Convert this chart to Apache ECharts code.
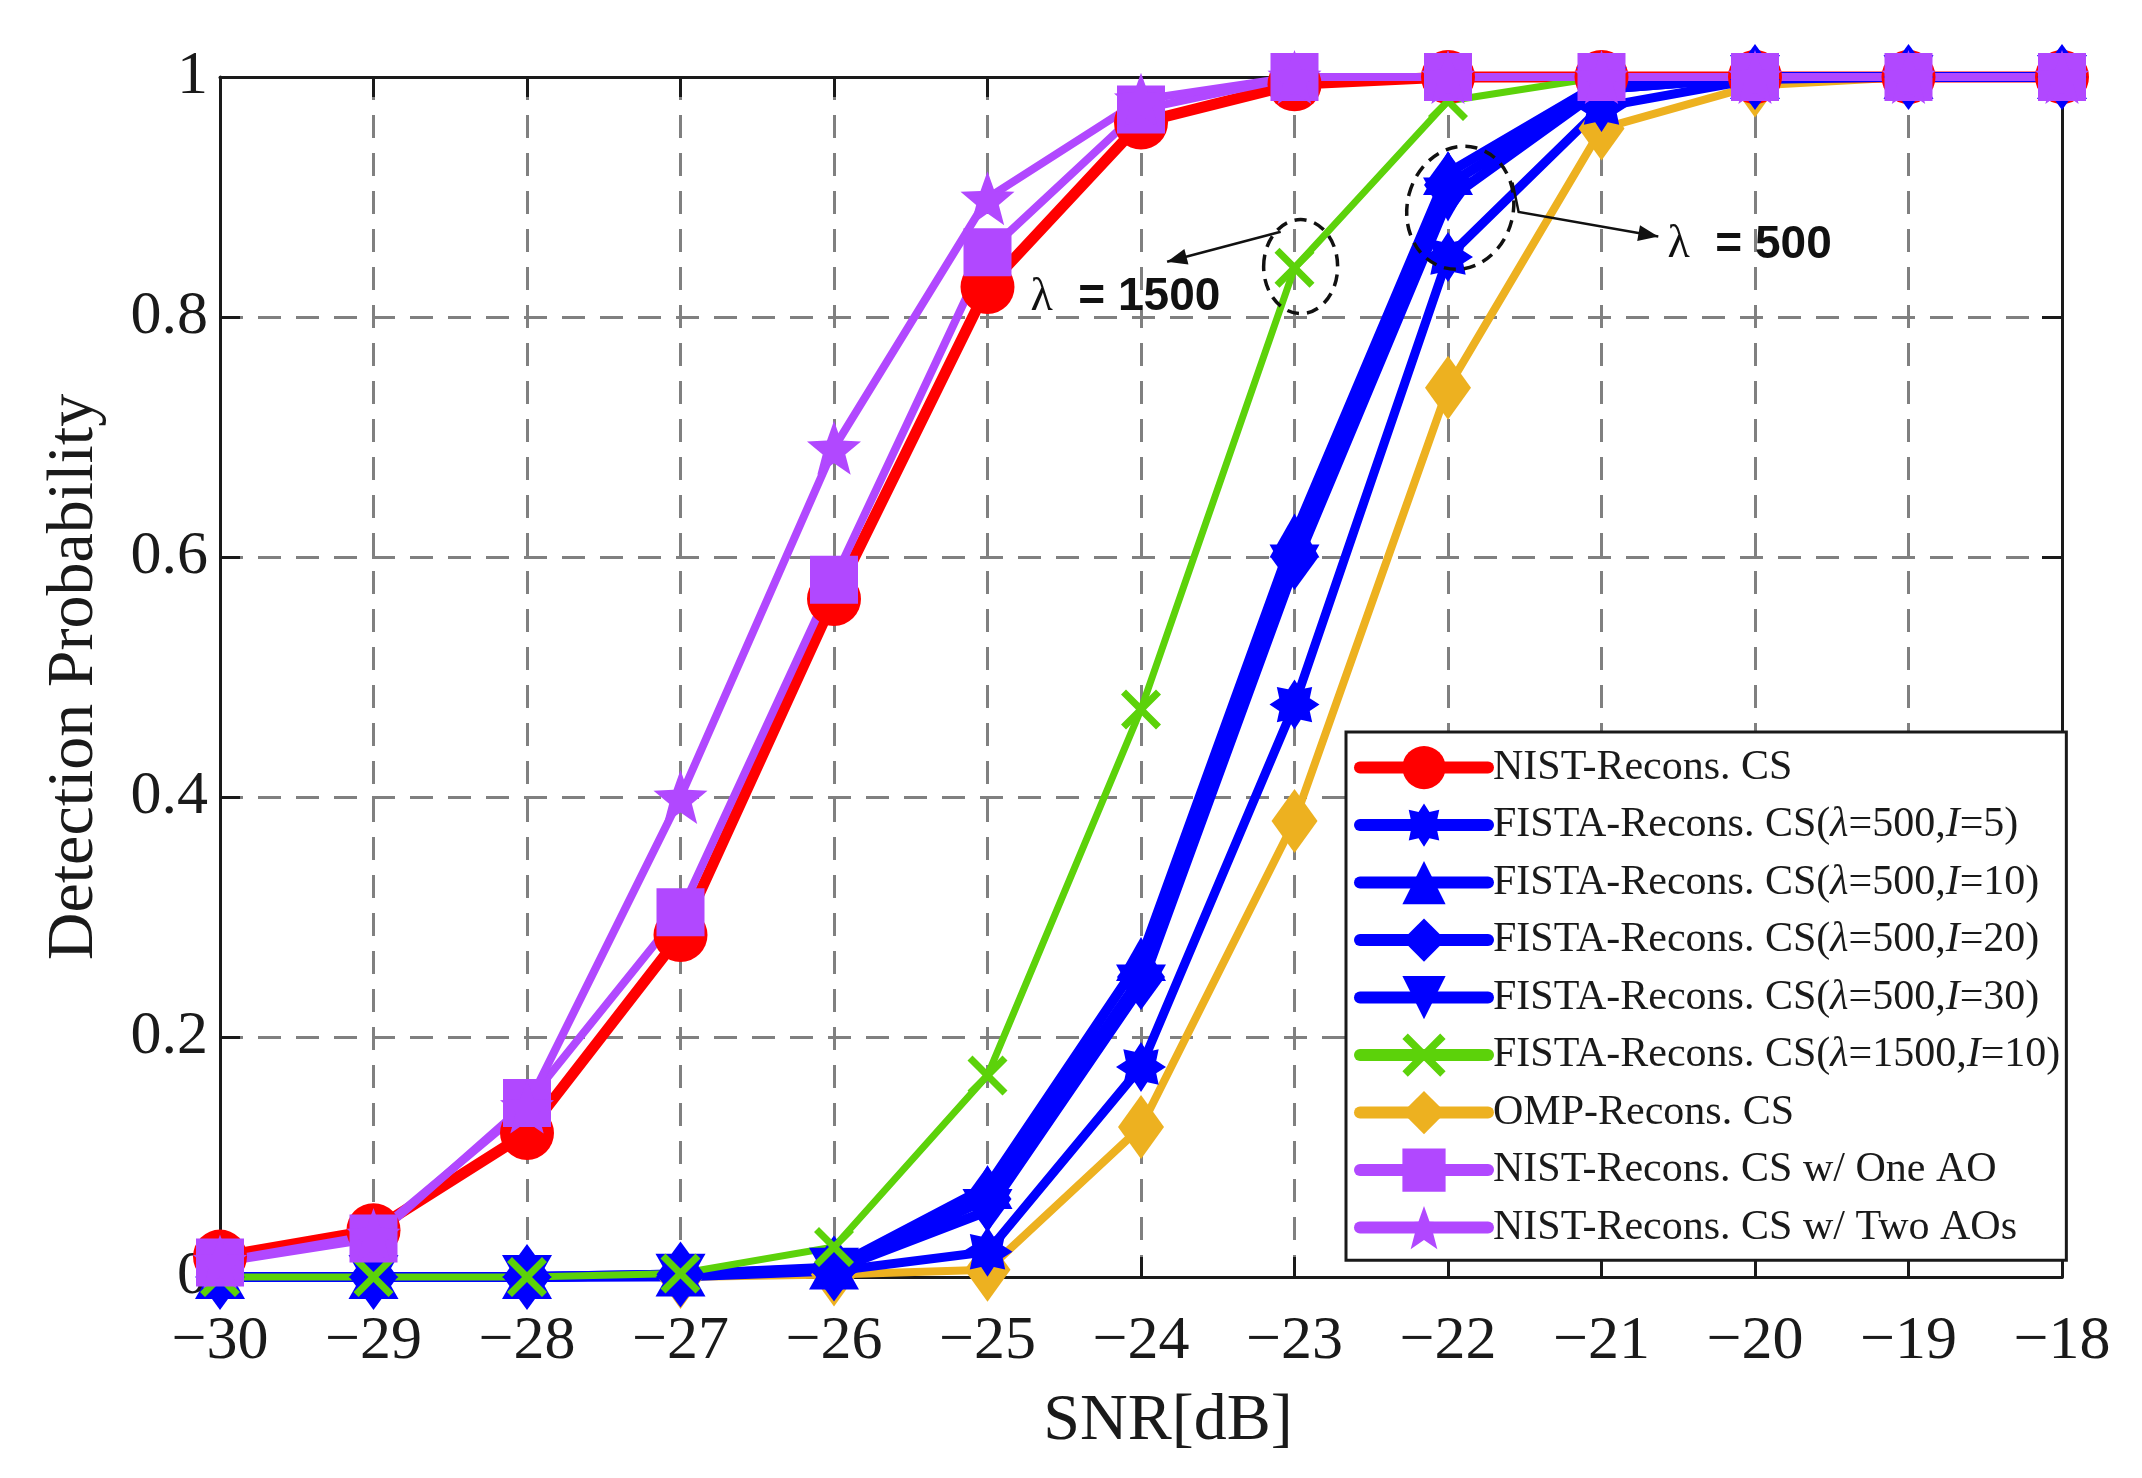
<!DOCTYPE html>
<html>
<head>
<meta charset="utf-8">
<script src="https://cdn.jsdelivr.net/npm/echarts@6/dist/echarts.min.js"></script>
<style>
html,body{margin:0;padding:0;background:#ffffff;}
#chart{width:2142px;height:1478px;}
</style>
</head>
<body>
<div id="chart"></div>
<script>
// ---------------- data ----------------
const snr = [-30, -29, -28, -27, -26, -25, -24, -23, -22, -21, -20, -19, -18];
const nistCS     = [0.017, 0.039, 0.120, 0.285, 0.565, 0.825, 0.962, 0.994, 1.000, 1.000, 1.000, 1.000, 1.000];
const fistaI5    = [0.000, 0.000, 0.000, 0.000, 0.005, 0.021, 0.175, 0.477, 0.850, 0.975, 0.998, 1.000, 1.000];
const fistaI10   = [0.000, 0.000, 0.000, 0.002, 0.008, 0.075, 0.265, 0.618, 0.920, 0.995, 1.000, 1.000, 1.000];
const fistaI20   = [0.000, 0.000, 0.000, 0.002, 0.007, 0.065, 0.250, 0.600, 0.910, 0.990, 1.000, 1.000, 1.000];
const fistaI30   = [0.000, 0.000, 0.000, 0.001, 0.006, 0.055, 0.242, 0.592, 0.898, 0.990, 1.000, 1.000, 1.000];
const fista1500  = [0.000, 0.000, 0.000, 0.003, 0.025, 0.168, 0.473, 0.841, 0.980, 1.000, 1.000, 1.000, 1.000];
const ompCS      = [0.000, 0.000, 0.000, 0.000, 0.002, 0.006, 0.125, 0.380, 0.741, 0.957, 0.993, 1.000, 1.000];
const nistOneAO  = [0.012, 0.032, 0.145, 0.304, 0.581, 0.854, 0.973, 1.000, 1.000, 1.000, 1.000, 1.000, 1.000];
const nistTwoAOs = [0.013, 0.035, 0.142, 0.400, 0.691, 0.899, 0.981, 1.000, 1.000, 1.000, 1.000, 1.000, 1.000];

const seriesNames = [
  'NIST-Recons. CS',
  'FISTA-Recons. CS(λ=500,I=5)',
  'FISTA-Recons. CS(λ=500,I=10)',
  'FISTA-Recons. CS(λ=500,I=20)',
  'FISTA-Recons. CS(λ=500,I=30)',
  'FISTA-Recons. CS(λ=1500,I=10)',
  'OMP-Recons. CS',
  'NIST-Recons. CS w/ One AO',
  'NIST-Recons. CS w/ Two AOs'
];
const xAxisName = 'SNR[dB]';
const yAxisName = 'Detection Probability';
const xTickMin = -30, xTickMax = -18, xTickStep = 1;
const yTickMin = 0, yTickMax = 1, yTickStep = 0.2;

// ---------------- symbol shapes ----------------
function starPath(n, rIn) {
  let d = '';
  for (let k = 0; k < 2 * n; k++) {
    const a = -Math.PI / 2 + k * Math.PI / n;
    const r = (k % 2 === 0) ? 50 : 50 * rIn;
    const x = (50 + r * Math.cos(a)).toFixed(2);
    const y = (50 + r * Math.sin(a)).toFixed(2);
    d += (k === 0 ? 'M' : 'L') + x + ',' + y + ' ';
  }
  return 'path://' + d + 'Z';
}
const SYM_ASTERISK = starPath(8, 0.66);
const SYM_PENTAGRAM = starPath(5, 0.42);
const SYM_CROSS = 'path://M0,2.5 L2.5,0 L10,7.5 L17.5,0 L20,2.5 L12.5,10 L20,17.5 L17.5,20 L10,12.5 L2.5,20 L0,17.5 L7.5,10 Z';
const SYM_DOWNTRI = 'path://M0,0 L20,0 L10,17 Z';

const RED = '#FF0000', BLUE = '#0000FF', GREEN = '#5CD20A', ORANGE = '#EDB120', PURPLE = '#B148FF';

const serif = 'Liberation Serif, Times New Roman, serif';

function mk(name, values, color, width, symbol, size) {
  return {
    name: name,
    type: 'line',
    data: snr.map((x, i) => [x, values[i]]),
    symbol: symbol,
    symbolSize: size,
    showSymbol: true,
    clip: false,
    lineStyle: { color: color, width: width, join: 'round', cap: 'round' },
    itemStyle: { color: color, borderWidth: 0 },
    emphasis: { disabled: true },
    animation: false
  };
}

// drawing order (bottom to top); legend order is given separately
const series = [
  mk(seriesNames[6], ompCS, ORANGE, 8, 'diamond', [46, 64]),
  mk(seriesNames[0], nistCS, RED, 11, 'circle', 54),
  mk(seriesNames[4], fistaI30, BLUE, 10, SYM_DOWNTRI, [50, 44]),
  mk(seriesNames[3], fistaI20, BLUE, 10, 'diamond', [48, 66]),
  mk(seriesNames[2], fistaI10, BLUE, 10, 'triangle', [50, 44]),
  mk(seriesNames[1], fistaI5, BLUE, 9, SYM_ASTERISK, 50),
  mk(seriesNames[5], fista1500, GREEN, 7, SYM_CROSS, 40),
  mk(seriesNames[7], nistOneAO, PURPLE, 8, 'rect', 48),
  mk(seriesNames[8], nistTwoAOs, PURPLE, 8, SYM_PENTAGRAM, 54)
];

const chart = echarts.init(document.getElementById('chart'), null, { renderer: 'canvas' });

const axisLine = { show: true, onZero: false, lineStyle: { color: '#1a1a1a', width: 3 } };
const axisTick = { show: true, inside: true, length: 20, lineStyle: { color: '#1a1a1a', width: 3 } };

const option = {
  backgroundColor: '#ffffff',
  animation: false,
  grid: { left: 220, right: 80, top: 77, bottom: 201, containLabel: false, show: false },
  xAxis: [
    {
      type: 'value', min: xTickMin, max: xTickMax, interval: xTickStep, position: 'bottom',
      name: xAxisName, nameLocation: 'middle', nameGap: 112,
      nameTextStyle: { fontFamily: serif, fontSize: 66, color: '#1a1a1a', padding: [0, 0, 0, 54] },
      axisLine: axisLine, axisTick: axisTick,
      axisLabel: {
        show: true, margin: 34, fontFamily: serif, fontSize: 62, color: '#1a1a1a',
        formatter: v => String(v).replace('-', '\u2212')
      },
      splitLine: { show: true, lineStyle: { color: '#808080', width: 3, type: [23, 15] } }
    },
    {
      type: 'value', min: xTickMin, max: xTickMax, interval: xTickStep, position: 'top',
      axisLine: axisLine, axisTick: axisTick, axisLabel: { show: false }, splitLine: { show: false }
    }
  ],
  yAxis: [
    {
      type: 'value', min: yTickMin, max: yTickMax, interval: yTickStep, position: 'left',
      name: yAxisName, nameLocation: 'middle', nameGap: 112, nameRotate: 90,
      nameTextStyle: { fontFamily: serif, fontSize: 66, color: '#1a1a1a' },
      axisLine: axisLine, axisTick: axisTick,
      axisLabel: {
        show: true, margin: 12, fontFamily: serif, fontSize: 62, color: '#1a1a1a',
        padding: [16, 0, 0, 0],
        formatter: v => String(Math.round(v * 10) / 10)
      },
      splitLine: { show: true, lineStyle: { color: '#808080', width: 3, type: [23, 15] } }
    },
    {
      type: 'value', min: yTickMin, max: yTickMax, interval: yTickStep, position: 'right',
      axisLine: axisLine, axisTick: axisTick, axisLabel: { show: false }, splitLine: { show: false }
    }
  ],
  legend: {
    show: true,
    orient: 'vertical',
    left: 1346, top: 732,
    padding: [14, 6, 11, 8],
    itemWidth: 128, itemHeight: 54, itemGap: 14.3,
    backgroundColor: '#ffffff',
    borderColor: '#1a1a1a', borderWidth: 3, borderRadius: 0,
    selectedMode: false,
    data: seriesNames,
    lineStyle: { width: 12 },
    textStyle: {
      fontFamily: serif, fontSize: 42, color: '#1a1a1a',
      rich: { i: { fontFamily: serif, fontSize: 42, fontStyle: 'italic', color: '#1a1a1a' } }
    },
    formatter: function (name) {
      return name.replace('λ', '{i|λ}').replace(',I=', ',{i|I}=');
    }
  },
  series: series
};

chart.setOption(option);

// ---------------- annotations (anchored in data coordinates) ----------------
function px(x, y) { return chart.convertToPixel({ xAxisIndex: 0, yAxisIndex: 0 }, [x, y]); }
function arrowHead(p0, p1, len, half) {
  const dx = p1[0] - p0[0], dy = p1[1] - p0[1];
  const L = Math.sqrt(dx * dx + dy * dy);
  const ux = dx / L, uy = dy / L;
  const bx = p1[0] - ux * len, by = p1[1] - uy * len;
  return [[p1[0], p1[1]], [bx - uy * half, by + ux * half], [bx + uy * half, by - ux * half]];
}

const e1 = px(-22.96, 0.842);
const e2 = px(-21.92, 0.891);
const a1s = px(-23.09, 0.871), a1e = px(-23.83, 0.846);
const a2a = px(-21.58, 0.912), a2b = px(-21.54, 0.8875), a2e = px(-20.63, 0.867);
const t1 = px(-24.72, 0.816);
const t2 = px(-20.57, 0.860);

const ink = '#111111';
const annRich = {
  a: { fontFamily: serif, fontSize: 46, fill: ink },
  b: { fontFamily: 'Liberation Sans, Arial, sans-serif', fontWeight: 'bold', fontSize: 46, fill: ink }
};
chart.setOption({
  graphic: [
    { type: 'ellipse', z: 100, shape: { cx: e1[0], cy: e1[1], rx: 37, ry: 47 },
      style: { fill: 'none', stroke: ink, lineWidth: 3.5, lineDash: [12, 8] } },
    { type: 'ellipse', z: 100, rotation: -0.25, originX: e2[0], originY: e2[1],
      shape: { cx: e2[0], cy: e2[1], rx: 53, ry: 62 },
      style: { fill: 'none', stroke: ink, lineWidth: 3.5, lineDash: [12, 8] } },
    { type: 'polyline', z: 100, shape: { points: [a1s, a1e] }, style: { stroke: ink, lineWidth: 2.5, fill: 'none' } },
    { type: 'polygon', z: 100, shape: { points: arrowHead(a1s, a1e, 20, 8) }, style: { fill: ink } },
    { type: 'polyline', z: 100, shape: { points: [a2a, a2b, a2e] }, style: { stroke: ink, lineWidth: 2.5, fill: 'none' } },
    { type: 'polygon', z: 100, shape: { points: arrowHead(a2b, a2e, 20, 8) }, style: { fill: ink } },
    { type: 'text', z: 100, x: t1[0], y: t1[1],
      style: { text: '{a|λ}{b|  = 1500}', align: 'left', verticalAlign: 'middle', rich: annRich } },
    { type: 'text', z: 100, x: t2[0], y: t2[1],
      style: { text: '{a|λ}{b|  = 500}', align: 'left', verticalAlign: 'middle', rich: annRich } }
  ]
});
</script>
</body>
</html>
